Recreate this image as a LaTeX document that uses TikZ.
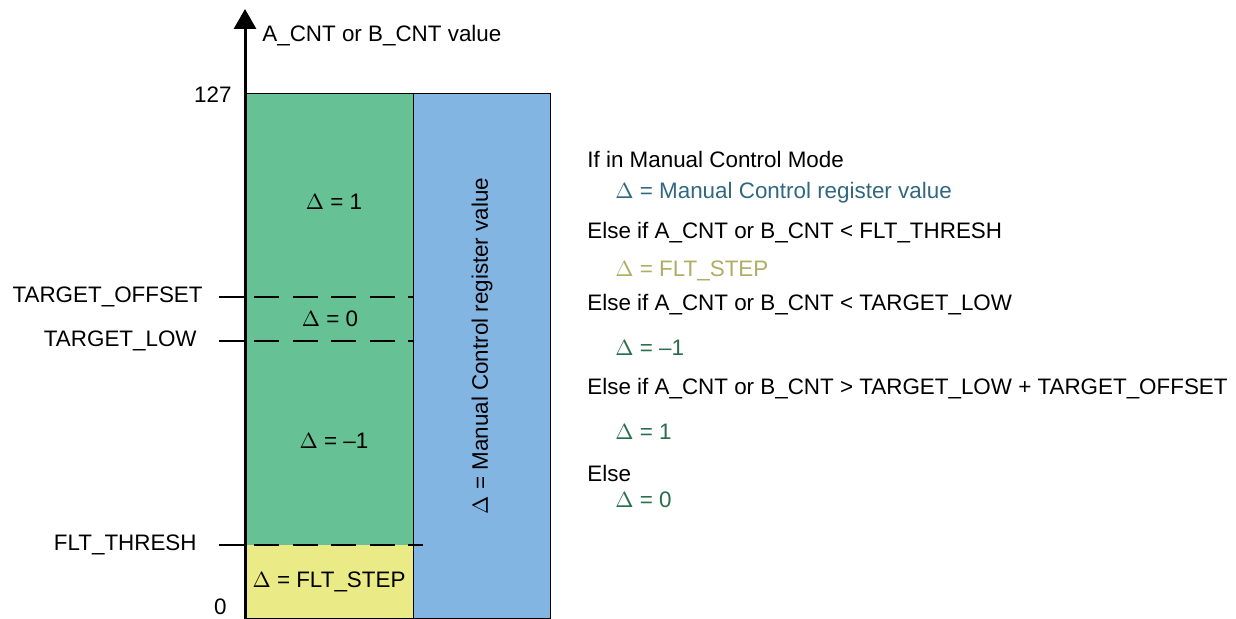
\documentclass[tikz,border=0pt]{standalone}
\usepackage{fontspec}
\setmainfont{Liberation Sans}
\usepackage{xcolor}
\usepackage{tikz}
\usetikzlibrary{positioning, arrows.meta, calc}

\definecolor{zonegreen}{RGB}{102,194,149}
\definecolor{zoneblue}{RGB}{131,181,227}
\definecolor{zoneyellow}{RGB}{234,234,134}
\definecolor{txtblue}{RGB}{49,104,128}
\definecolor{txtolive}{RGB}{176,172,100}
\definecolor{txtgreen}{RGB}{40,110,75}

\begin{document}
\begin{tikzpicture}[x=0.5pt, y=-0.5pt, font=\fontsize{11.2}{13}\selectfont]
			\tikzset{
				zone/.style={draw=black, line width=0.5pt},
				lvlline/.style={line width=0.8pt, dash pattern=on 12.5pt off 6.75pt},
				tickline/.style={line width=0.6pt},
				lvl/.style={anchor=east, inner sep=0pt},
				cond/.style={anchor=west, inner sep=0pt},
				res/.style={anchor=west, inner sep=0pt},
			}
			\useasboundingbox (0,0) rectangle (1236,619);
			
			% Zones (fills first, then borders)
			\fill[zonegreen] (245,94) rectangle (413,545);
			\fill[zoneyellow] (245,545) rectangle (413,619);
			\fill[zoneblue] (413,94) rectangle (550,619);
			\draw[zone] (245,619) -- (245,94) -- (550,94) -- (550,618) -- (245,618);
			\draw[zone] (413,94) -- (413,618);
			
			% Axis
			\coordinate (ax0) at (245,619);
			\coordinate (axtop) at (245,9);
			\draw[line width=1.5pt, -{Triangle[width=11pt,length=10pt]}] (ax0) -- (axtop);
			\node[cond] (axlab) at (262,36) {A\_CNT or B\_CNT value};
			\node[lvl] (v127) at (232,95) {127};
			\node[lvl] (v0) at (227,607) {0};
			
			% Level labels
			\node[lvl] (toff) at (203,297) {TARGET\_OFFSET};
			\node[lvl] (tlow) at (197,341) {TARGET\_LOW};
			\node[lvl] (fthr) at (197,545) {FLT\_THRESH};
			
			% Level lines
			\foreach \n/\y/\e in {toff/297/413, tlow/341/413, fthr/545/423} {
				\coordinate (\n-a) at (219,\y);
				\coordinate (\n-b) at (244,\y);
				\coordinate (\n-c) at (254,\y);
				\coordinate (\n-d) at (\e,\y);
				\draw[tickline] (\n-a) -- (\n-b);
				\draw[lvlline] (\n-c) -- (\n-d);
			}
			
			% Zone texts
			\node (z1) at (334,202) {$\Delta$ = 1};
			\node (z0) at (330,319) {$\Delta$ = 0};
			\node (zm1) at (334,441) {$\Delta$ = --1};
			\node (zstep) at (329,582) {$\Delta$ = FLT\_STEP};
			\node[rotate=90] (zman) at (482,346) {$\Delta$ = Manual Control register value};
			
			% Rules
			\node[cond] (c1) at (587,159) {If in Manual Control Mode};
			\node[res, txtblue] (r1) at (615,193) {$\Delta$ = Manual Control register value};
			\node[cond] (c2) at (587,233) {Else if A\_CNT or B\_CNT < FLT\_THRESH};
			\node[res, txtolive] (r2) at (615,271) {$\Delta$ = FLT\_STEP};
			\node[cond] (c3) at (587,305) {Else if A\_CNT or B\_CNT < TARGET\_LOW};
			\node[res, txtgreen] (r3) at (615,348) {$\Delta$ = --1};
			\node[cond] (c4) at (587,389) {Else if A\_CNT or B\_CNT > TARGET\_LOW + TARGET\_OFFSET};
			\node[res, txtgreen] (r4) at (615,432) {$\Delta$ = 1};
			\node[cond] (c5) at (587,473) {Else};
			\node[res, txtgreen] (r5) at (615,500) {$\Delta$ = 0};
		\end{tikzpicture}
\end{document}
